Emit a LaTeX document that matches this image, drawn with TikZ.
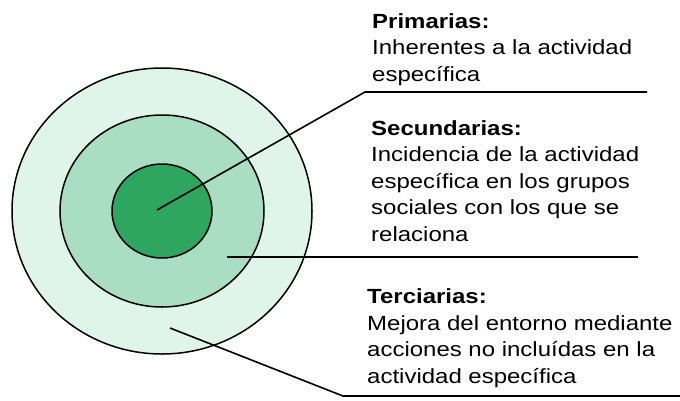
\documentclass[tikz,border=0pt]{standalone}
\usepackage{fontspec}
\newfontfamily\labelfont{Liberation Sans}[FakeStretch=1.17]
\usetikzlibrary{positioning}
\definecolor{ringout}{RGB}{224,245,234}
\definecolor{ringmid}{RGB}{170,222,194}
\definecolor{ringin}{RGB}{46,166,96}
\tikzset{
     ring/.style = {draw=black, line width=1.5pt},
     leader/.style = {black, line width=1.6pt},
     tag node/.style = {anchor=base west, align=left, inner sep=0pt,
        font=\labelfont\fontsize{20.5}{26.5}\selectfont},
    }

\begin{document}
\begin{tikzpicture}[x=1pt,y=-1pt]
        \useasboundingbox (0,0) rectangle (680,400);
        % rings
        \coordinate (o) at (162,211);
        \draw [ring, fill=ringout] (o) ellipse [x radius=150, y radius=143];
        \draw [ring, fill=ringmid] (o) ellipse [x radius=102, y radius=96];
        \draw [ring, fill=ringin] (o) ellipse [x radius=50, y radius=47];
        % labels (anchored on their last line)
        \node [tag node] (prim) at (372,81) {\textbf{Primarias:}\\Inherentes a la actividad\\específica};
        \node [tag node] (secu) at (371,241) {\textbf{Secundarias:}\\Incidencia de la actividad\\específica en los grupos\\sociales con los que se\\relaciona};
        \node [tag node] (terc) at (367,383) {\textbf{Terciarias:}\\Mejora del entorno mediante\\acciones no incluídas en la\\actividad específica};
        % leaders
        \coordinate (p0) at (157,210);
        \coordinate (p1) at (365,92);
        \coordinate (p2) at (647,92);
        \coordinate (s0) at (227,257);
        \coordinate (s1) at (638,257);
        \coordinate (t0) at (170,328);
        \coordinate (t1) at (343,396);
        \coordinate (t2) at (680,396);
        \draw [leader] (p0) -- (p1) -- (p2);
        \draw [leader] (s0) -- (s1);
        \draw [leader] (t0) -- (t1) -- (t2);
    \end{tikzpicture}
\end{document}
